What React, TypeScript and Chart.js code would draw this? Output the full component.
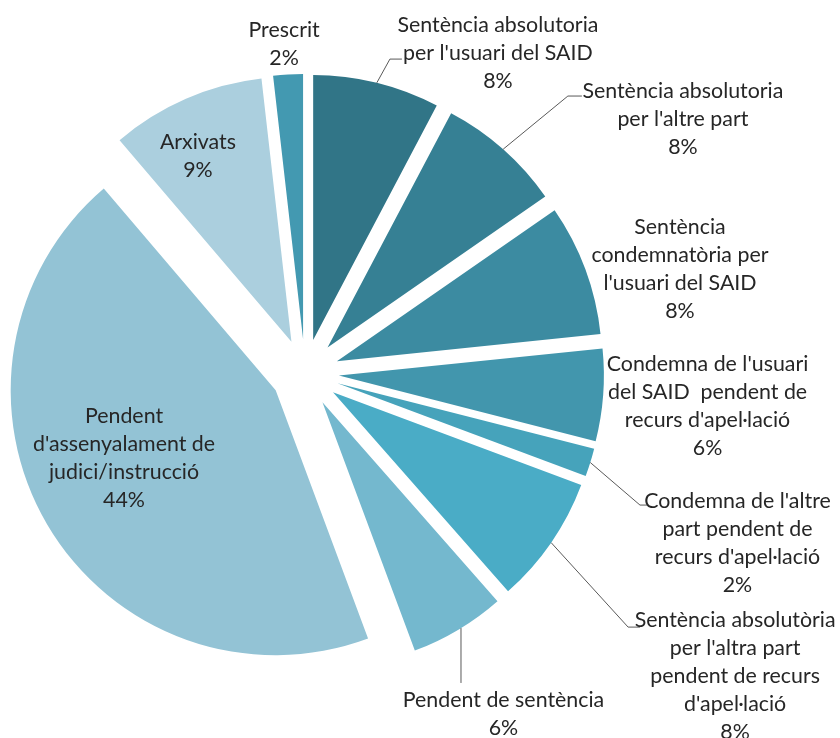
import React, { useEffect, useRef } from "react";
import { Chart, registerables } from "chart.js";

Chart.register(...registerables);

// ---------- data ----------
const categories: string[] = [
  "Sentència absolutoria per l'usuari del SAID",
  "Sentència absolutoria per l'altre part",
  "Sentència condemnatòria per l'usuari del SAID",
  "Condemna de l'usuari del SAID  pendent de recurs d'apel·lació",
  "Condemna de l'altre part pendent de recurs d'apel·lació",
  "Sentència absolutòria per l'altra part pendent de recurs d'apel·lació",
  "Pendent de sentència",
  "Pendent d'assenyalament de judici/instrucció",
  "Arxivats",
  "Prescrit",
];

const values: number[] = [7.7, 7.6, 8.0, 5.6, 1.7, 7.8, 5.8, 44.3, 9.4, 1.8];

// category names as wrapped in the data labels
const labelLines: string[][] = [
  ["Sentència absolutoria", "per l'usuari del SAID"],
  ["Sentència absolutoria", "per l'altre part"],
  ["Sentència", "condemnatòria per", "l'usuari del SAID"],
  ["Condemna de l'usuari", "del SAID  pendent de", "recurs d'apel·lació"],
  ["Condemna de l'altre", "part pendent de", "recurs d'apel·lació"],
  ["Sentència absolutòria", "per l'altra part", "pendent de recurs", "d'apel·lació"],
  ["Pendent de sentència"],
  ["Pendent", "d'assenyalament de", "judici/instrucció"],
  ["Arxivats"],
  ["Prescrit"],
];

const colors: string[] = [
  "#317587",
  "#368094",
  "#3C8BA1",
  "#4296AD",
  "#46A3BB",
  "#4AACC6",
  "#74B8CE",
  "#93C3D5",
  "#ABCFDE",
  "#4399B1",
];

// ---------- layout / style ----------
const EXPLODE = 34; // px each slice is pulled out
const FONT_FAMILY = "Lato, 'Open Sans', sans-serif";
const REF_TEXT = "Sentència absolutoria";
const REF_WIDTH = 201; // px width of REF_TEXT in the reference
const LINE_H = 28;
const TEXT_DY = 1.5;
const TEXT_COLOR = "#262626";
const LEADER_COLOR = "#595959";

// label block centre relative to pie centre, in units of the radius
const labelPos: [number, number][] = [
  [0.728, -1.211],
  [1.426, -0.964],
  [1.415, -0.396],
  [1.519, 0.121],
  [1.632, 0.638],
  [1.623, 1.14],
  [0.749, 1.281],
  [-0.683, 0.315],
  [-0.404, -0.826],
  [-0.079, -1.245],
];

// leader lines: [elbowDx, elbowDy, endDx, endDy, vertical?] relative to label centre (px), or null
const leaders: (number[] | null)[] = [
  [-108, 7, -96, 7, 0],
  [-115, -21.5, -101, -21.5, 0],
  null,
  null,
  [-97.5, -37, -90.5, -37, 0],
  [-107, -48, -95, -48, 0],
  [-42.5, -29.5, -42.5, -29.5, 1],
  null,
  null,
  null,
];

const explodePlugin = {
  id: "explodeSlices",
  beforeDatasetDraw(chart: any, args: any) {
    const meta = chart.getDatasetMeta(args.index);
    meta.data.forEach((arc: any) => {
      const mid = (arc.startAngle + arc.endAngle) / 2;
      arc.x += Math.cos(mid) * EXPLODE;
      arc.y += Math.sin(mid) * EXPLODE;
    });
  },
  afterDatasetDraw(chart: any, args: any) {
    const meta = chart.getDatasetMeta(args.index);
    meta.data.forEach((arc: any) => {
      const mid = (arc.startAngle + arc.endAngle) / 2;
      arc.x -= Math.cos(mid) * EXPLODE;
      arc.y -= Math.sin(mid) * EXPLODE;
    });
  },
};

const labelPlugin = {
  id: "sliceLabels",
  afterDatasetsDraw(chart: any) {
    const ctx: CanvasRenderingContext2D = chart.ctx;
    const meta = chart.getDatasetMeta(0);
    const data: number[] = chart.data.datasets[0].data;
    const total = data.reduce((a, b) => a + b, 0);

    ctx.save();
    ctx.font = `100px ${FONT_FAMILY}`;
    const w = ctx.measureText(REF_TEXT).width || 1;
    const fontSize = (100 * REF_WIDTH) / w;
    ctx.font = `${fontSize}px ${FONT_FAMILY}`;
    ctx.textAlign = "center";
    ctx.textBaseline = "middle";

    meta.data.forEach((arc: any, i: number) => {
      const cx = arc.x;
      const cy = arc.y;
      const R = arc.outerRadius;
      const mid = (arc.startAngle + arc.endAngle) / 2;
      const lx = cx + labelPos[i][0] * R;
      const ly = cy + labelPos[i][1] * R;

      const pct = Math.round((data[i] / total) * 100) + "%";
      const lines = [...labelLines[i], pct];

      const ld = leaders[i];
      if (ld) {
        const tipX = cx + Math.cos(mid) * EXPLODE;
        const tipY = cy + Math.sin(mid) * EXPLODE;
        let sx = tipX + Math.cos(mid) * R;
        let sy = tipY + Math.sin(mid) * R;
        if (ld[4]) {
          // straight vertical leader meeting the slice's outer arc
          sx = lx + ld[2];
          const dx = sx - tipX;
          sy = tipY + Math.sqrt(Math.max(R * R - dx * dx, 0));
        }
        ctx.beginPath();
        ctx.strokeStyle = LEADER_COLOR;
        ctx.lineWidth = 1;
        ctx.moveTo(sx, sy);
        ctx.lineTo(lx + ld[0], ly + ld[1]);
        ctx.lineTo(lx + ld[2], ly + ld[3]);
        ctx.stroke();
      }

      ctx.fillStyle = TEXT_COLOR;
      const n = lines.length;
      lines.forEach((t, j) => {
        ctx.fillText(t, lx, ly + TEXT_DY + (j - (n - 1) / 2) * LINE_H);
      });
    });
    ctx.restore();
  },
};

export default function App() {
  const canvasRef = useRef<HTMLCanvasElement | null>(null);

  useEffect(() => {
    document.body.style.margin = "0";
    const canvas = canvasRef.current;
    if (!canvas) return;
    const chart = new Chart(canvas, {
      type: "pie",
      data: {
        labels: categories,
        datasets: [
          {
            data: values,
            backgroundColor: colors,
            borderWidth: 0,
            offset: 0,
          },
        ],
      },
      options: {
        animation: false,
        responsive: true,
        maintainAspectRatio: false,
        layout: { padding: { left: 40, top: 108, right: 270, bottom: 100 } },
        plugins: {
          legend: { display: false },
          tooltip: { enabled: false },
        },
      },
      plugins: [explodePlugin, labelPlugin],
    });
    return () => chart.destroy();
  }, []);

  return (
    <div style={{ position: "fixed", left: 0, top: 0, width: 840, height: 738, background: "#fff" }}>
      <canvas ref={canvasRef} />
    </div>
  );
}
